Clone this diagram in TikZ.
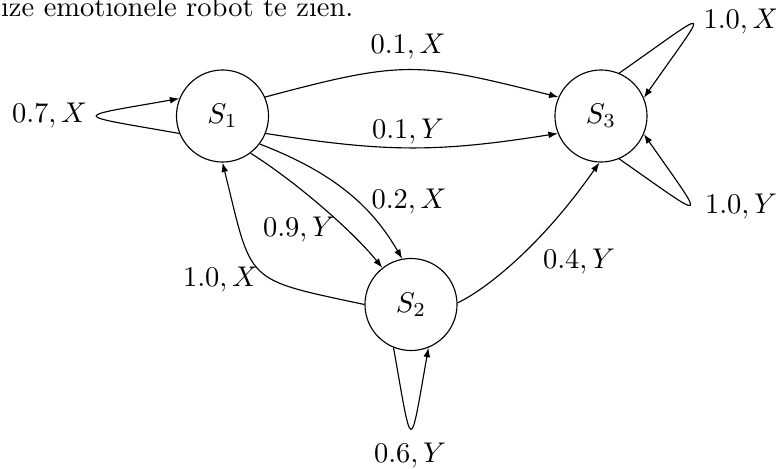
\documentclass[tikz,border=0pt]{standalone}
\usetikzlibrary{arrows.meta}
\begin{document}
\begin{tikzpicture}[x=0.3509pt,y=0.3509pt,
  state/.style={draw,circle,minimum size=32.3pt,inner sep=0pt},
  lbl/.style={anchor=base,inner sep=0pt},
  arr/.style={-{Latex[length=3.3pt,width=2.4pt]}}]
\useasboundingbox (0,0) rectangle (776,-469);
\clip (0,0) rectangle (776,-469);
\node[anchor=base west,inner sep=0pt] (cap) at (0.5,-16.5) {ize emotionele robot te zien.};
\node[state] (s1) at (222.5,-116) {$S_1$};
\node[state] (s2) at (411,-304.5) {$S_2$};
\node[state] (s3) at (601,-116) {$S_3$};
% loops
\draw[arr] (s1.202) .. controls +(170:111) and +(190:111) .. (s1.158);
\draw[arr] (s3.67) .. controls +(35:117) and +(55:117) .. (s3.23);
\draw[arr] (s3.-67) .. controls +(-35:111) and +(-55:111) .. (s3.-23);
\draw[arr] (s2.-112) .. controls +(-80:109) and +(-100:109) .. (s2.-68);
% edges
\draw[arr] (s1.24) .. controls +(15:145) and +(166:145) .. (s3.156);
\draw[arr] (s1.-22) .. controls +(-9:122) and +(189:122) .. (s3.-158);
\draw[arr] (s1.-37) .. controls +(-21:80) and +(120:60) .. (s2.101);
\draw[arr] (s1.-53) .. controls +(-32:50) and +(129:50) .. (s2.128);
\draw[arr] (s2.180) .. controls +(168:125) and +(-76:125) .. (s1.-90);
\draw[arr] (s2.2) .. controls +(25:25) and +(235:110) .. (s3.-92);
% labels
\node[lbl] (l1) at (49.5,-122.5) {$0.7, X$};
\node[lbl] (l2) at (408,-53.5) {$0.1, X$};
\node[lbl] (l3) at (408,-138.5) {$0.1, Y$};
\node[lbl] (l4) at (409,-208) {$0.2, X$};
\node[lbl] (l5) at (299,-236) {$0.9, Y$};
\node[lbl] (l6) at (220.5,-286.5) {$1.0, X$};
\node[lbl] (l7) at (579,-268) {$0.4, Y$};
\node[lbl] (l8) at (741,-28) {$1.0, X$};
\node[lbl] (l9) at (741,-213.5) {$1.0, Y$};
\node[lbl] (l10) at (410,-463) {$0.6, Y$};
\end{tikzpicture}
\end{document}
